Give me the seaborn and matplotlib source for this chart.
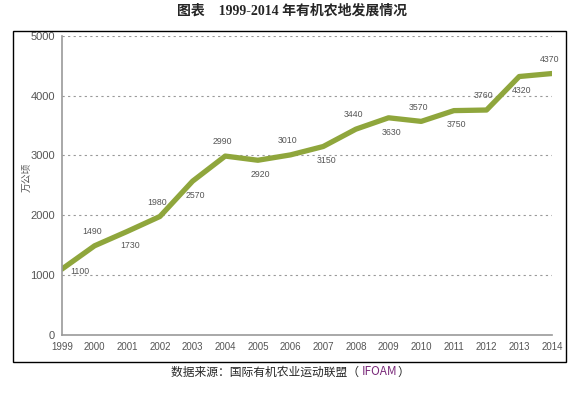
import matplotlib

matplotlib.use("Agg")
import matplotlib.pyplot as plt
import seaborn as sns
import pandas as pd
from matplotlib.patches import Rectangle

years = [1999, 2000, 2001, 2002, 2003, 2004, 2005, 2006, 2007,
         2008, 2009, 2010, 2011, 2012, 2013, 2014]
area = [1100, 1490, 1730, 1980, 2570, 2990, 2920, 3010, 3150,
        3440, 3630, 3570, 3750, 3760, 4320, 4370]
yticks = [0, 1000, 2000, 3000, 4000, 5000]

title = "图表    1999-2014 年有机农地发展情况"
ylabel = "万公顷"
source = "数据来源：国际有机农业运动联盟（ "

sns.set_style("white")
plt.rcParams["font.family"] = ["Noto Sans CJK SC", "DejaVu Sans"]
num_font = ["Liberation Sans", "DejaVu Sans"]

df = pd.DataFrame({"year": years, "area": area})

fig = plt.figure(figsize=(5.84, 3.94), dpi=100)
ax = fig.add_axes([0.106, 0.15, 0.839, 0.759])

sns.lineplot(data=df, x="year", y="area", color="#8FA63C", linewidth=3.8,
             ax=ax, solid_joinstyle="round")

ax.set_xlim(1999, 2014)
ax.set_ylim(0, 5000)
ax.set_yticks(yticks)
ax.set_xticks(years)
ax.set_xticklabels([str(y) for y in years])
ax.tick_params(axis="x", direction="in", length=3, width=0.8, color="#999999", pad=5)
ax.tick_params(axis="y", length=0, pad=5)
for t in ax.get_xticklabels():
    t.set_color("#555555")
    t.set_family(num_font)
    t.set_fontsize(7)
for t in ax.get_yticklabels():
    t.set_color("#555555")
    t.set_family(num_font)
    t.set_fontsize(8)

ax.set_xlabel("")
ax.set_ylabel("")
for s in ["top", "right"]:
    ax.spines[s].set_visible(False)
for s in ["left", "bottom"]:
    ax.spines[s].set_color("#999999")
    ax.spines[s].set_linewidth(1.2)

for yv in yticks[1:]:
    ax.axhline(yv, color="#999999", linestyle=(0, (2, 3)), linewidth=0.8, zorder=0)

# value labels alternate above / below the line
for i, (x, y) in enumerate(zip(years, area)):
    if i == 0:
        off, va, ha = (6, -2), "center", "left"
    elif i % 2 == 1:
        off, va, ha = (-2, 7), "bottom", "center"
    else:
        off, va, ha = (2, -7), "top", "center"
    ax.annotate(str(y), (x, y), xytext=off, textcoords="offset points",
                fontsize=6.3, color="#555555", ha=ha, va=va, family=num_font)

fig.text(0.046, 0.55, ylabel, rotation=90, fontsize=7, color="#555555",
         ha="center", va="center")

fig.text(0.5, 0.972, title, fontsize=10, fontweight="bold", ha="center", va="center",
         family=["Liberation Serif", "Noto Sans CJK SC"])

fig.add_artist(Rectangle((0.022, 0.081), 0.947, 0.841, transform=fig.transFigure,
                         fill=False, edgecolor="black", linewidth=1.0))

t1 = fig.text(0.293, 0.056, source, fontsize=8.5, ha="left", va="center")
t2 = ax.annotate("IFOAM", xy=(1, 0), xycoords=t1, va="bottom", ha="left",
                 fontsize=8.5, color="#7a2a7a", annotation_clip=False)
ax.annotate("）", xy=(1, 0), xycoords=t2, va="bottom", ha="left",
            fontsize=8.5, annotation_clip=False)

fig.savefig("out.png", dpi=100)
